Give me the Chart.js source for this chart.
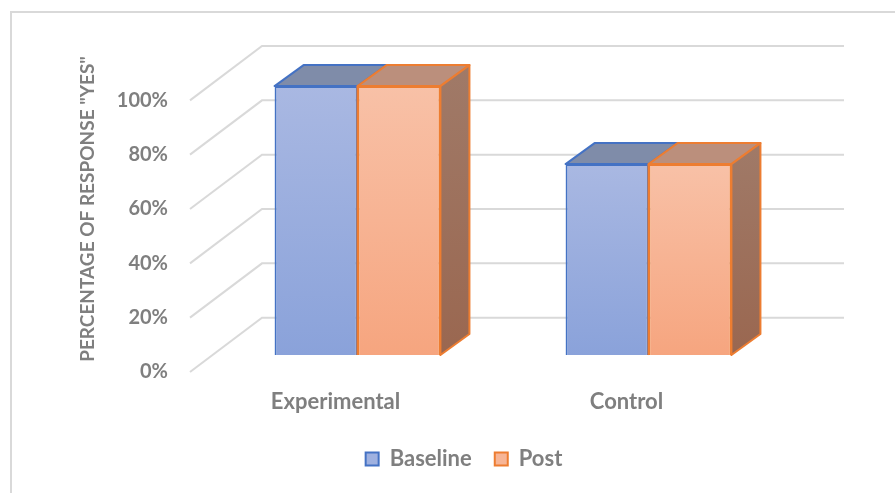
<!DOCTYPE html>
<html>
<head>
<meta charset="utf-8">
<script src="https://cdn.jsdelivr.net/npm/chart.js@4/dist/chart.umd.min.js"></script>
<style>
  html, body { margin: 0; padding: 0; background: #ffffff; }
  #wrap { width: 895px; height: 493px; position: relative; }
</style>
</head>
<body>
<div id="wrap"><canvas id="chart" width="895" height="493"></canvas></div>
<script>
// Survey results: share of "yes" answers per group, before and after
const groups = ['Experimental', 'Control'];
const seriesNames = ['Baseline', 'Post'];
const baselineValues = [100, 71];
const postValues = [100, 71];
const tickValues = [0, 20, 40, 60, 80, 100];
const axisTitle = 'PERCENTAGE OF RESPONSE "YES"';

// Pseudo-3D geometry (pixels)
const BAR_DX = 29, BAR_DY = 21;   // depth of each column
const FLOOR_FRONT = 22;           // front floor edge, left of the column plane
const FLOOR_BACK = 50;            // back wall, right of the column plane

const TEXT = '#7f7f7f';
const GRID = '#d9d9d9';

const palette = {
  Baseline: { top: '#a9b8e2', bottom: '#8aa2da', flat: '#9fb1e0', border: '#4472c4', lid: '#7f8ca9' },
  Post:     { top: '#f8c1a7', bottom: '#f6a57f', flat: '#f7b596', border: '#ed7d31', lid: '#bb8f7c',
              sideTop: '#a07a68', sideBottom: '#9a6750' }
};

function frontFill(p) {
  return (c) => {
    if (c.type !== 'data' || !c.chart.chartArea) return p.flat;
    const ys = c.chart.scales.y;
    const y0 = ys.getPixelForValue(c.parsed.y);
    const y1 = ys.getPixelForValue(0);
    const g = c.chart.ctx.createLinearGradient(0, y0, 0, y1);
    g.addColorStop(0, p.top);
    g.addColorStop(1, p.bottom);
    return g;
  };
}

// Outer chart frame
const framePlugin = {
  id: 'frame',
  beforeDraw(chart) {
    const ctx = chart.ctx;
    ctx.save();
    ctx.fillStyle = '#ffffff';
    ctx.fillRect(0, 0, chart.width, chart.height);
    ctx.strokeStyle = GRID;
    ctx.lineWidth = 2;
    ctx.strokeRect(11, 12, chart.width + 40, chart.height + 40);
    ctx.restore();
  }
};

// Floor diagonals and back-wall gridlines
const wallPlugin = {
  id: 'walls',
  beforeDatasetsDraw(chart) {
    const ctx = chart.ctx, ca = chart.chartArea;
    const yT = chart.scales.yTicks, yB = chart.scales.yBack;
    const xFront = ca.left - FLOOR_FRONT;
    const xBack = ca.left + FLOOR_BACK;
    const xEnd = ca.right + FLOOR_BACK;
    ctx.save();
    ctx.strokeStyle = GRID;
    ctx.lineWidth = 2;
    tickValues.forEach(v => {
      const yf = yT.getPixelForValue(v);
      const yb = yB.getPixelForValue(v);
      ctx.beginPath();
      ctx.moveTo(xFront, yf);
      ctx.lineTo(xBack, yb);
      ctx.lineTo(xEnd, yb);
      ctx.stroke();
    });
    ctx.restore();
  }
};

// Top and side faces of the columns
const columnPlugin = {
  id: 'columns3d',
  afterDatasetsDraw(chart) {
    const ctx = chart.ctx;
    const metas = seriesNames.map((_, i) => chart.getDatasetMeta(i));
    ctx.save();
    ctx.lineWidth = 2;
    ctx.lineJoin = 'round';
    groups.forEach((_, gi) => {
      metas.forEach((meta, di) => {
        const p = palette[seriesNames[di]];
        const bar = meta.data[gi];
        const { x, y, base, width } = bar.getProps(['x', 'y', 'base', 'width'], true);
        const l = x - width / 2, r = x + width / 2;
        // lid
        ctx.beginPath();
        ctx.moveTo(l, y);
        ctx.lineTo(l + BAR_DX, y - BAR_DY);
        ctx.lineTo(r + BAR_DX, y - BAR_DY);
        ctx.lineTo(r, y);
        ctx.closePath();
        ctx.fillStyle = p.lid;
        ctx.fill();
        ctx.strokeStyle = p.border;
        ctx.stroke();
        if (di === metas.length - 1) {
          // side
          const g = ctx.createLinearGradient(0, y - BAR_DY, 0, base);
          g.addColorStop(0, p.sideTop);
          g.addColorStop(1, p.sideBottom);
          ctx.beginPath();
          ctx.moveTo(r, y);
          ctx.lineTo(r + BAR_DX, y - BAR_DY);
          ctx.lineTo(r + BAR_DX, base - BAR_DY);
          ctx.lineTo(r, base);
          ctx.closePath();
          ctx.fillStyle = g;
          ctx.fill();
          ctx.strokeStyle = p.border;
          ctx.stroke();
          // shared front edge
          ctx.beginPath();
          ctx.moveTo(l, y);
          ctx.lineTo(l, base);
          ctx.stroke();
        }
      });
    });
    ctx.restore();
  }
};

function start() {
  Chart.defaults.font.family = 'Lato, "Open Sans", sans-serif';
  Chart.defaults.font.weight = 'bold';
  Chart.defaults.color = TEXT;

  new Chart(document.getElementById('chart'), {
    type: 'bar',
    data: {
      labels: groups,
      datasets: [
        {
          label: seriesNames[0],
          data: baselineValues,
          backgroundColor: frontFill(palette.Baseline),
          borderColor: palette.Baseline.border,
          borderWidth: 2,
          xAxisID: 'x',
          yAxisID: 'y'
        },
        {
          label: seriesNames[1],
          data: postValues,
          backgroundColor: frontFill(palette.Post),
          borderColor: palette.Post.border,
          borderWidth: 2,
          xAxisID: 'x',
          yAxisID: 'y'
        }
      ]
    },
    options: {
      responsive: false,
      animation: false,
      events: [],
      layout: { padding: { left: 33, right: 0, top: 46, bottom: 13 } },
      datasets: { bar: { categoryPercentage: 0.57, barPercentage: 1 } },
      plugins: {
        tooltip: { enabled: false },
        legend: {
          position: 'bottom',
          labels: {
            boxWidth: 13,
            boxHeight: 13,
            padding: 23,
            color: TEXT,
            font: { size: 22, weight: 'bold' },
            generateLabels(chart) {
              return seriesNames.map((name, i) => ({
                text: name,
                fillStyle: palette[name].flat,
                strokeStyle: palette[name].border,
                lineWidth: 2,
                hidden: false,
                datasetIndex: i,
                fontColor: TEXT
              }));
            }
          }
        }
      },
      scales: {
        x: {
          type: 'category',
          position: 'bottom',
          grid: { display: false, drawTicks: false },
          border: { display: false },
          ticks: { padding: 17, labelOffset: -FLOOR_FRONT, maxRotation: 0, font: { size: 22, weight: 'bold' }, color: TEXT },
          afterFit(s) { s.height = 53; }
        },
        y: {
          type: 'linear',
          display: false,
          min: -6.3,
          max: 114.9
        },
        yTicks: {
          type: 'linear',
          position: 'left',
          min: 0,
          max: 120,
          grid: { display: false, drawTicks: true, tickLength: 40 },
          border: { display: false },
          afterBuildTicks(s) { s.ticks = tickValues.map(v => ({ value: v })); },
          ticks: {
            padding: 4,
            color: TEXT,
            font: { size: 20, weight: 'bold' },
            callback: v => v + '%'
          },
          title: {
            display: true,
            text: axisTitle,
            color: TEXT,
            font: { size: 19, weight: 'bold' },
            padding: { top: 43, bottom: 0 }
          },
          afterFit(s) { s.width = 179; }
        },
        yBack: {
          type: 'linear',
          position: 'right',
          min: -20,
          max: 100,
          grid: { display: false, drawTicks: false },
          border: { display: false },
          ticks: { display: false },
          afterFit(s) { s.width = 101; }
        }
      }
    },
    plugins: [framePlugin, wallPlugin, columnPlugin]
  });
}

const fontReady = (document.fonts && document.fonts.load)
  ? Promise.all([document.fonts.load('bold 20px Lato'), document.fonts.load('bold 22px Lato')]).catch(() => {})
  : Promise.resolve();
fontReady.then(start);
</script>
</body>
</html>
